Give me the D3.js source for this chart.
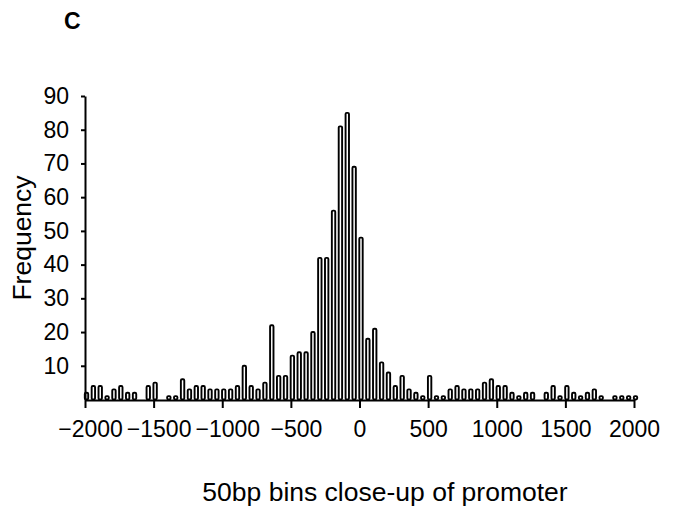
<!DOCTYPE html>
<html>
<head>
<meta charset="utf-8">
<script src="https://cdn.jsdelivr.net/npm/d3@7"></script>
<style>
  html, body { margin: 0; padding: 0; background: #fff; }
  svg text { font-family: "Liberation Sans", Arial, sans-serif; fill: #000; }
</style>
</head>
<body>
<svg id="chart" width="678" height="518"></svg>
<script>
// Bin centers (bp), 50bp bins from -2000 to 2000
const binCenters = d3.range(-2000, 2001, 50);
// Frequency per bin
const frequency = [
  2, 4, 4, 1, 3, 4, 2, 2, 0, 4,
  5, 0, 1, 1, 6, 3, 4, 4, 3, 3,
  3, 3, 4, 10, 4, 3, 5, 22, 7, 7,
  13, 14, 14, 20, 42, 42, 56, 81, 85, 69,
  48, 18, 21, 11, 8, 4, 7, 3, 2, 1,
  7, 1, 1, 3, 4, 3, 3, 3, 5, 6,
  4, 4, 2, 1, 2, 2, 0, 2, 4, 1,
  4, 2, 1, 2, 3, 1, 0, 1, 1, 1,
  1
];
const xTickValues = [-2000, -1500, -1000, -500, 0, 500, 1000, 1500, 2000];
const yTickValues = [10, 20, 30, 40, 50, 60, 70, 80, 90];
const panelLabel = "C";
const xTitle = "50bp bins close-up of promoter";
const yTitle = "Frequency";

const data = binCenters.map((c, i) => ({ c, v: frequency[i] }));

const svg = d3.select("#chart");
const x = d3.scaleLinear().domain([-2000, 2000]).range([85, 634]);
const y = d3.scaleLinear().domain([0, 90]).range([399.5, 96]);

// Bars
const barW = 3.4;
svg.append("g")
  .selectAll("rect")
  .data(data)
  .join("rect")
  .attr("x", d => x(d.c) - barW / 2 + 1.5)
  .attr("y", d => y(d.v))
  .attr("width", barW)
  .attr("height", d => y(0) - y(d.v))
  .attr("rx", 1.2)
  .attr("fill", "#fff")
  .attr("stroke", "#000")
  .attr("stroke-width", 1.9);

// Y axis
const yAxis = svg.append("g")
  .attr("transform", "translate(85,0)")
  .call(d3.axisLeft(y).tickValues(yTickValues).tickSize(4).tickSizeOuter(0).tickPadding(12));
yAxis.select(".domain").attr("stroke-width", 2);
yAxis.selectAll(".tick line").attr("stroke-width", 2);
yAxis.selectAll("text").style("font-size", "23px");

// X axis
const xAxis = svg.append("g")
  .attr("transform", "translate(0,400)")
  .call(d3.axisBottom(x).tickValues(xTickValues)
    .tickFormat(d => d < 0 ? "\u2212" + Math.abs(d) : String(d))
    .tickSize(8).tickSizeOuter(0).tickPadding(13));
xAxis.select(".domain").attr("stroke-width", 2);
xAxis.selectAll(".tick line").attr("stroke-width", 2);
xAxis.selectAll("text").style("font-size", "23px");
xAxis.selectAll(".tick text").filter(d => d < 0).attr("x", 5);

// Titles
svg.append("text")
  .attr("x", 385).attr("y", 501)
  .attr("text-anchor", "middle")
  .style("font-size", "26.5px")
  .text(xTitle);

svg.append("text")
  .attr("transform", "translate(31,238) rotate(-90)")
  .attr("text-anchor", "middle")
  .style("font-size", "26.5px")
  .text(yTitle);

svg.append("text")
  .attr("x", 64).attr("y", 29)
  .style("font-size", "23px")
  .style("font-weight", "bold")
  .text(panelLabel);
</script>
</body>
</html>
